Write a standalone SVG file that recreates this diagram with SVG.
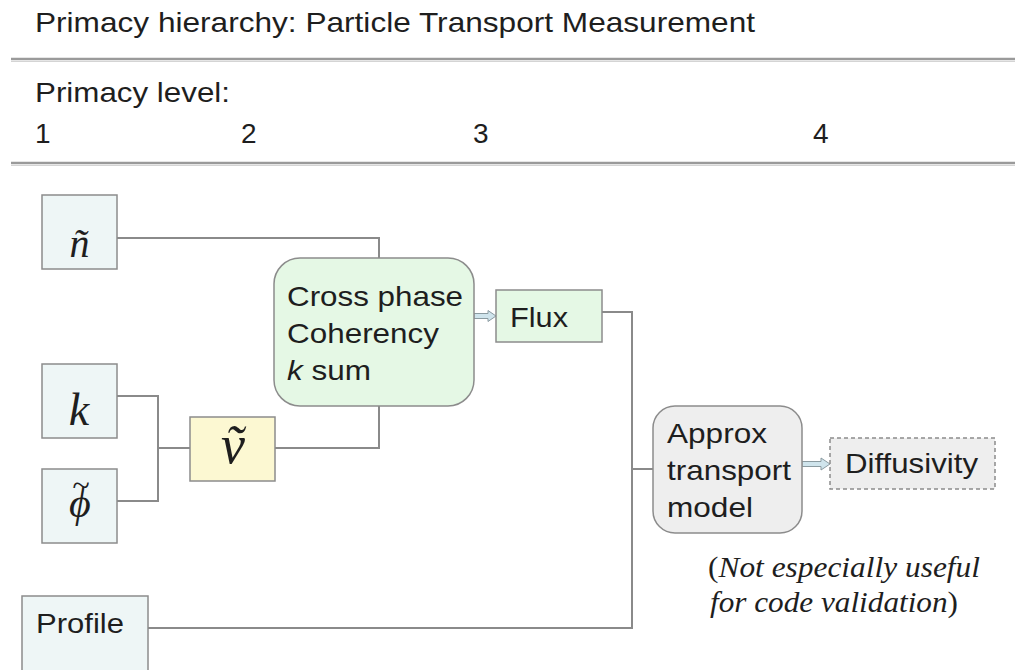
<svg xmlns="http://www.w3.org/2000/svg" width="1015" height="670" viewBox="0 0 1015 670">
  <defs>
    <style>
      .sans { font-family: "Liberation Sans", Arial, sans-serif; font-size: 28px; fill: #1e1e1e; }
      .math { font-family: "Liberation Serif", "Times New Roman", serif; font-style: italic; fill: #1e1e1e; }
      .note { font-family: "Liberation Serif", "Times New Roman", serif; font-size: 29px; fill: #1e1e1e; }
      .rule { stroke: #9a9a9a; stroke-width: 2.5; fill: none; }
      .rule-hi { stroke: #d4d4d4; stroke-width: 1; fill: none; }
      .wire { stroke: #8a8a8a; stroke-width: 2; fill: none; }
      .input { fill: #eef6f6; stroke: #8c8c8c; stroke-width: 1.5; }
      .derived { fill: #e5f8e5; stroke: #8c8c8c; stroke-width: 1.5; }
      .velocity { fill: #fcf8d2; stroke: #8c8c8c; stroke-width: 1.5; }
      .model { fill: #eeeeee; stroke: #8c8c8c; stroke-width: 1.5; }
      .dashed { fill: #eeeeee; stroke: #8c8c8c; stroke-width: 1.5; stroke-dasharray: 4 3; }
      .blockarrow { fill: #cfe4ec; stroke: #8a9aa0; stroke-width: 1; }
    </style>
  </defs>

  <rect width="1015" height="670" fill="#ffffff"/>

  <!-- header -->
  <g id="header">
    <text class="sans" x="35" y="32" textLength="720" lengthAdjust="spacingAndGlyphs">Primacy hierarchy: Particle Transport Measurement</text>
    <line class="rule" x1="11" y1="59" x2="1015" y2="59"/>
    <line class="rule-hi" x1="11" y1="61.5" x2="1015" y2="61.5"/>
    <text class="sans" x="35" y="102" textLength="195" lengthAdjust="spacingAndGlyphs">Primacy level:</text>
    <text class="sans" x="35" y="143">1</text>
    <text class="sans" x="241" y="143">2</text>
    <text class="sans" x="473" y="143">3</text>
    <text class="sans" x="813" y="143">4</text>
    <line class="rule" x1="11" y1="163" x2="1015" y2="163"/>
    <line class="rule-hi" x1="11" y1="165.5" x2="1015" y2="165.5"/>
  </g>

  <!-- connectors -->
  <g id="connectors">
    <!-- density fluctuation to cross-phase -->
    <polyline class="wire" points="117,238 379,238 379,258"/>
    <!-- k and potential merge into velocity -->
    <polyline class="wire" points="117,396 158,396 158,501 117,501"/>
    <line class="wire" x1="158" y1="448" x2="190" y2="448"/>
    <!-- velocity to cross-phase -->
    <polyline class="wire" points="275,448 379,448 379,406"/>
    <!-- flux and profile into transport model -->
    <polyline class="wire" points="602,312 632,312 632,628 148,628"/>
    <line class="wire" x1="632" y1="469" x2="653" y2="469"/>
    <!-- block arrows -->
    <polygon class="blockarrow" points="474,313.5 488,313.5 488,310.5 496,316 488,321.5 488,318.5 474,318.5"/>
    <polygon class="blockarrow" points="802,461.5 821,461.5 821,458 830,464 821,470 821,466.5 802,466.5"/>
  </g>

  <g id="node-n">
    <rect class="input" x="42" y="195" width="75" height="74"/>
    <text class="math" x="79.5" y="257" font-size="40" text-anchor="middle">ñ</text>
  </g>

  <g id="node-k">
    <rect class="input" x="42" y="364" width="75" height="74"/>
    <text class="math" x="79" y="425" font-size="46" text-anchor="middle">k</text>
  </g>

  <g id="node-phi">
    <rect class="input" x="42" y="469" width="75" height="74"/>
    <!-- phi with a tilde set above it -->
    <text class="math" x="69" y="517" font-size="42">ϕ<tspan x="72" y="496" font-size="32">~</tspan></text>
  </g>

  <g id="node-v">
    <rect class="velocity" x="190" y="417" width="85" height="64"/>
    <text class="math" x="233" y="463" font-size="54" text-anchor="middle">ṽ</text>
  </g>

  <g id="node-crossphase">
    <rect class="derived" x="274" y="258" width="200" height="148" rx="26" ry="26"/>
    <text class="sans" x="287" y="305.5" textLength="176" lengthAdjust="spacingAndGlyphs">Cross phase</text>
    <text class="sans" x="287" y="342.5" textLength="152" lengthAdjust="spacingAndGlyphs">Coherency</text>
    <text class="sans" x="287" y="379.5" textLength="84" lengthAdjust="spacingAndGlyphs"><tspan font-style="italic">k</tspan> sum</text>
  </g>

  <g id="node-flux">
    <rect class="derived" x="496" y="290" width="106" height="52"/>
    <text class="sans" x="510" y="327" textLength="58" lengthAdjust="spacingAndGlyphs">Flux</text>
  </g>

  <g id="node-profile">
    <rect class="input" x="22" y="596" width="126" height="100"/>
    <text class="sans" x="36" y="633" textLength="88" lengthAdjust="spacingAndGlyphs">Profile</text>
  </g>

  <g id="node-model">
    <rect class="model" x="653" y="406" width="149" height="127" rx="22" ry="22"/>
    <text class="sans" x="667" y="443" textLength="100" lengthAdjust="spacingAndGlyphs">Approx</text>
    <text class="sans" x="667" y="480" textLength="124" lengthAdjust="spacingAndGlyphs">transport</text>
    <text class="sans" x="667" y="517" textLength="86" lengthAdjust="spacingAndGlyphs">model</text>
  </g>

  <g id="node-diffusivity">
    <rect class="dashed" x="830" y="438" width="165" height="51"/>
    <text class="sans" x="845" y="473" textLength="133" lengthAdjust="spacingAndGlyphs">Diffusivity</text>
  </g>

  <g id="note">
    <text class="note" x="708" y="577" textLength="272" lengthAdjust="spacingAndGlyphs">(<tspan font-style="italic">Not especially useful</tspan></text>
    <text class="note" x="710" y="612" textLength="248" lengthAdjust="spacingAndGlyphs"><tspan font-style="italic">for code validation</tspan>)</text>
  </g>
</svg>
